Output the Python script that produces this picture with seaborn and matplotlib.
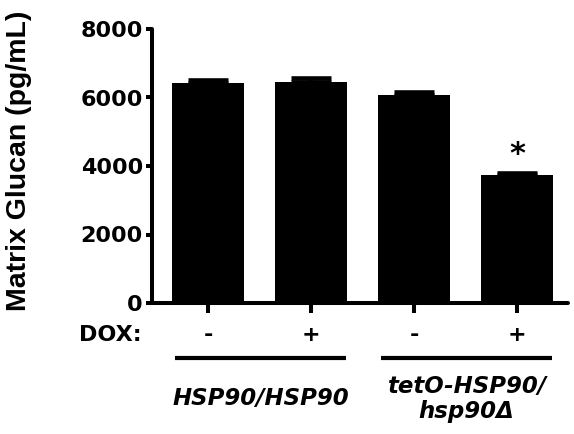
import matplotlib
matplotlib.use("Agg")
import matplotlib.pyplot as plt
import seaborn as sns
import pandas as pd

# ---- data ----
conditions = ["HSP90/HSP90 -DOX", "HSP90/HSP90 +DOX", "tetO -DOX", "tetO +DOX"]
glucan = [6410, 6460, 6060, 3740]
sem = [100, 110, 100, 45]
dox = ["-", "+", "-", "+"]
groups = ["HSP90/HSP90", "tetO-HSP90/\nhsp90Δ"]
group_members = [[0, 1], [2, 3]]
significant = [False, False, False, True]
yticks = [0, 2000, 4000, 6000, 8000]

sns.set_theme(style="ticks")
plt.rcParams["font.family"] = ["DejaVu Sans"]
plt.rcParams["font.weight"] = "bold"
for k in ["text.color", "axes.labelcolor", "xtick.color", "ytick.color", "axes.edgecolor"]:
    plt.rcParams[k] = "black"

df = pd.DataFrame({"condition": conditions, "glucan": glucan})

fig = plt.figure(figsize=(5.74, 4.34), dpi=100)
ax = fig.add_axes([152 / 574, 1 - 303 / 434, 416 / 574, 274 / 434])

sns.barplot(data=df, x="condition", y="glucan", order=conditions, color="black",
            width=0.7, errorbar=None, saturation=1, ax=ax, edgecolor="none")

ax.errorbar(range(len(glucan)), glucan, yerr=[[0] * len(sem), sem], fmt="none",
            ecolor="black", elinewidth=3, capsize=14.4, capthick=3.3, zorder=3)

ax.set_xlim(-0.544, 3.495)
ax.set_ylim(0, 8000)
ax.set_yticks(yticks)
ax.set_yticklabels([str(v) for v in yticks], fontsize=16, fontweight="bold")
ax.set_xticks(range(len(dox)))
ax.set_xticklabels(dox, fontsize=16, fontweight="bold")
ax.set_xlabel("")
ax.set_ylabel("")

for s in ["top", "right"]:
    ax.spines[s].set_visible(False)
for s in ["left", "bottom"]:
    ax.spines[s].set_linewidth(2.9)
    ax.spines[s].set_color("black")
    ax.spines[s].set_capstyle("round")
ax.tick_params(axis="y", length=4.5, width=2.9, pad=2, colors="black")
ax.tick_params(axis="x", length=7, width=2.9, pad=9, colors="black")

trans = ax.get_xaxis_transform()
ax.text(-0.64, -0.117, "DOX:", transform=trans, ha="right", va="center",
        fontsize=16, fontweight="bold", color="black", clip_on=False)

for name, members in zip(groups, group_members):
    x0, x1 = min(members) - 0.32, max(members) + 0.34
    ax.plot([x0, x1], [-0.1996, -0.1996], transform=trans, color="black",
            lw=3, clip_on=False, solid_capstyle="butt")
    ax.text((x0 + x1) / 2, -0.35, name, transform=trans, ha="center", va="center",
            fontsize=16.5, fontweight="bold", fontstyle="italic", linespacing=1.12,
            color="black", clip_on=False)

for i, (v, e, sig) in enumerate(zip(glucan, sem, significant)):
    if sig:
        ax.text(i, v + e + 290, "*", ha="center", va="baseline", fontsize=22,
                fontweight="bold", color="black")

fig.text(19 / 574, 1 - 161 / 434, "Matrix Glucan (pg/mL)", rotation=90,
         ha="center", va="center", fontsize=20.5, fontweight="bold", color="black",
         family=["Liberation Sans", "DejaVu Sans"])

fig.savefig("out.png", dpi=100)
